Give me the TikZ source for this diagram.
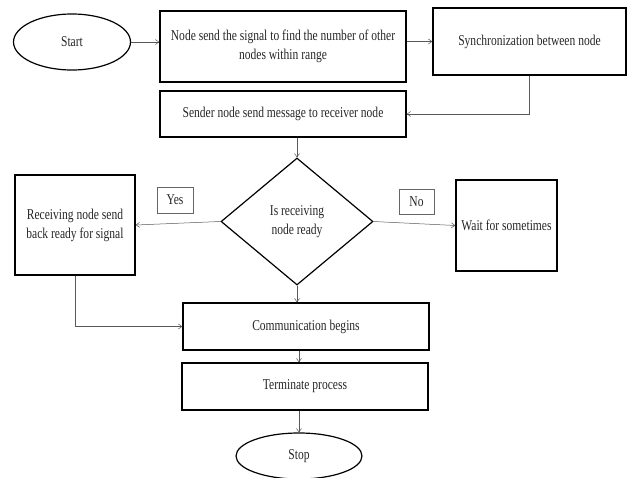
\documentclass[tikz,border=0pt]{standalone}
\usepackage{fontspec}
\setmainfont{Liberation Serif}[FakeStretch=0.77]
\usetikzlibrary{shapes.geometric,arrows.meta}

\begin{document}
\begin{tikzpicture}[x=1pt, y=-1pt,
    box/.style={draw, line width=1.4pt, align=center, inner sep=2pt, text=black!85, font=\fontsize{15}{19}\selectfont},
    terminal/.style={box, ellipse, line width=1.2pt},
    decision/.style={box, diamond, aspect=1.2, line width=1.2pt},
    tag/.style={draw=black!60, line width=0.5pt, text=black!85, font=\fontsize{15}{19}\selectfont},
    arrow/.style={-{Straight Barb[length=3.5pt,width=5pt]}, line width=0.5pt, draw=black!65}
]
\useasboundingbox (0,0) rectangle (627,477);

\node[terminal, minimum width=117pt, minimum height=56pt] at (72,42) (start) {Start};
\node[box, minimum width=246pt, minimum height=71pt] at (283,46.5) (signal) {Node send the signal to find the number of other\\nodes within range};
\node[box, minimum width=193pt, minimum height=67pt] at (529.5,41.5) (sync) {Synchronization between node};
\node[box, minimum width=246pt, minimum height=46pt] at (283,114) (sender) {Sender node send message to receiver node};

\node[decision, minimum width=152pt, minimum height=127pt] at (297,221.5) (ready) {Is receiving\\node ready};
\node[box, minimum width=120pt, minimum height=100pt] at (75,225) (reply) {Receiving node send\\back ready for signal};
\node[box, minimum width=101pt, minimum height=91pt] at (506.5,225.5) (wait) {Wait for sometimes};
\node[tag, minimum width=36pt, minimum height=26pt] at (175,200) (yes) {Yes};
\node[tag, minimum width=35pt, minimum height=25pt] at (416.5,201.5) (no) {No};

\node[box, minimum width=246pt, minimum height=47pt] at (306,326.5) (comm) {Communication begins};
\node[box, minimum width=246pt, minimum height=47pt] at (305,386.5) (term) {Terminate process};
\node[terminal, minimum width=126pt, minimum height=46pt] at (299,456) (stop) {Stop};

\draw[arrow] (start) -- (start -| signal.west);
\draw[arrow] (signal.east |- sync.west) -- (sync.west);
\draw[arrow] (sync.south) |- (sender.east);
\draw[arrow] (ready.north |- sender.south) -- (ready.north);
\draw[arrow] (ready.west) -- (reply.east);
\draw[arrow] (ready.east) -- (wait.west);
\draw[arrow] (ready.south) -- (ready.south |- comm.north);
\draw[arrow] (reply.south) |- (comm.west);
\draw[arrow] (stop.north |- comm.south) -- (stop.north |- term.north);
\draw[arrow] (stop.north |- term.south) -- (stop.north);
\end{tikzpicture}
\end{document}
